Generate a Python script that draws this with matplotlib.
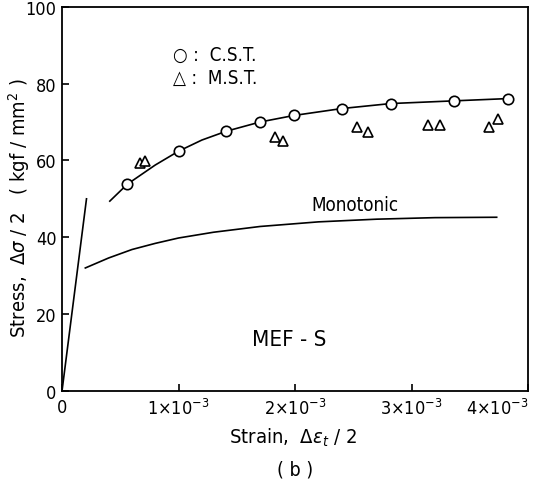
import matplotlib
matplotlib.use("Agg")
import matplotlib.pyplot as plt
from matplotlib.ticker import FixedLocator, FixedFormatter

plt.rcParams["font.family"] = ["DejaVu Sans"]
plt.rcParams["font.stretch"] = "condensed"
plt.rcParams["mathtext.fontset"] = "dejavusans"

# ── Data (strain in units of 1e-3, stress in kgf/mm2) ─────────────────────────
cst_x = [0.56, 1.00, 1.41, 1.70, 1.99, 2.40, 2.82, 3.36, 3.83]
cst_y = [53.8, 62.4, 67.6, 70.0, 71.7, 73.5, 74.8, 75.5, 76.1]

mst_x = [0.67, 0.71, 1.83, 1.90, 2.53, 2.63, 3.14, 3.24, 3.66, 3.74]
mst_y = [59.4, 59.8, 66.0, 65.0, 68.6, 67.3, 69.1, 69.1, 68.8, 70.9]

cyc_x = [0.41, 0.56, 0.80, 1.00, 1.20, 1.41, 1.70, 1.99, 2.40, 2.82, 3.36, 3.83]
cyc_y = [49.4, 53.8, 58.8, 62.4, 65.3, 67.6, 70.0, 71.7, 73.5, 74.8, 75.5, 76.1]

mono_x = [0.20, 0.40, 0.60, 0.80, 1.00, 1.30, 1.70, 2.20, 2.70, 3.20, 3.73]
mono_y = [32.0, 34.6, 36.8, 38.4, 39.8, 41.3, 42.8, 44.0, 44.7, 45.1, 45.2]

elastic_x = [0.0, 0.21]
elastic_y = [0.0, 50.0]

xticks = [0, 1, 2, 3, 4]
xtick_labels = ["0", r"1$\times$10$^{-3}$", r"2$\times$10$^{-3}$",
                r"3$\times$10$^{-3}$", r"4$\times$10$^{-3}$"]
yticks = [0, 20, 40, 60, 80, 100]

fig = plt.figure(figsize=(5.37, 4.85), dpi=100)
ax = fig.add_axes([0.1155, 0.192, 0.868, 0.792])

ax.plot(elastic_x, elastic_y, color="black", lw=1.2)
ax.plot(mono_x, mono_y, color="black", lw=1.2)
ax.plot(cyc_x, cyc_y, color="black", lw=1.2)
ax.plot(cst_x, cst_y, "o", ms=7.5, mfc="white", mec="black", mew=1.2)
ax.plot(mst_x, mst_y, "^", ms=7.5, mfc="white", mec="black", mew=1.2)

ax.set_xlim(0, 4)
ax.set_ylim(0, 100)
ax.xaxis.set_major_locator(FixedLocator(xticks))
ax.xaxis.set_major_formatter(FixedFormatter(xtick_labels))
ax.set_yticks(yticks)
ax.tick_params(direction="in", length=5, width=1.2, labelsize=13,
               top=False, right=False)
ax.tick_params(axis="x", pad=5)
ax.tick_params(axis="y", pad=4)
# last x label sits at the right edge of the figure: pull it inward
ax.get_xticklabels()[-1].set_horizontalalignment("right")
for s in ax.spines.values():
    s.set_linewidth(1.3)

ax.text(2.51, 48.5, "Monotonic", ha="center", va="center", fontsize=13.5)
ax.text(1.95, 13.5, "MEF - S", ha="center", va="center", fontsize=16)
ax.text(0.95, 87.5, "\u25CB :  C.S.T.", ha="left", va="center", fontsize=13.5)
ax.text(0.95, 81.5, "\u25B3 :  M.S.T.", ha="left", va="center", fontsize=13.5)

fig.text(0.035, 0.57, r"Stress,  $\Delta\sigma$ / 2   ( kgf / mm$^2$ )",
         rotation=90, ha="center", va="center", fontsize=14.5)
fig.text(0.545, 0.097, r"Strain,  $\Delta\epsilon_t$ / 2",
         ha="center", va="center", fontsize=14.5)
fig.text(0.55, 0.03, "( b )", ha="center", va="center", fontsize=14)

fig.savefig("out.png", dpi=100)
